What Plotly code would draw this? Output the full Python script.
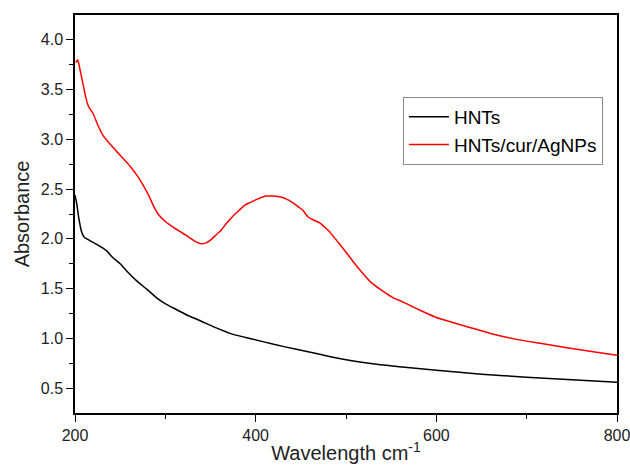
import plotly.graph_objects as go

# Data
hnt_x = [200, 202, 204, 207, 210, 217, 225, 235, 242, 250, 258, 268, 280, 290, 298, 310,
         325, 338, 355, 375, 398, 420, 445, 471, 497, 534, 565, 600, 650, 700, 750, 800]
hnt_y = [2.44, 2.35, 2.22, 2.08, 2.02, 1.98, 1.94, 1.88, 1.81, 1.75, 1.67, 1.58, 1.49, 1.41, 1.36, 1.30,
         1.23, 1.18, 1.11, 1.04, 0.99, 0.94, 0.89, 0.84, 0.79, 0.74, 0.71, 0.68, 0.64, 0.61, 0.585, 0.56]

ag_x = [201, 203, 206, 209, 212, 215, 220, 225, 231, 240, 250, 261, 270, 276, 282, 287, 292, 298,
        305, 315, 324, 332, 340, 345, 349, 355, 362, 368, 375, 382, 388, 395, 402, 412, 420, 428,
        434, 440, 446, 452, 458, 464, 471, 476, 482, 490, 497, 503, 508, 518, 528, 540, 552, 562,
        571, 585, 600, 618, 637, 660, 689, 715, 741, 770, 800]
ag_y = [3.77, 3.80, 3.68, 3.55, 3.42, 3.33, 3.26, 3.15, 3.04, 2.94, 2.84, 2.73, 2.62, 2.53, 2.43, 2.33, 2.25, 2.19,
        2.14, 2.08, 2.03, 1.98, 1.95, 1.96, 1.98, 2.03, 2.09, 2.16, 2.23, 2.29, 2.34, 2.37, 2.40, 2.43, 2.43, 2.42,
        2.40, 2.37, 2.33, 2.29, 2.22, 2.19, 2.16, 2.12, 2.07, 1.98, 1.90, 1.83, 1.77, 1.66, 1.56, 1.48, 1.41, 1.37,
        1.33, 1.27, 1.21, 1.16, 1.11, 1.05, 0.99, 0.95, 0.91, 0.87, 0.83]

series_names = ["HNTs", "HNTs/cur/AgNPs"]

fig = go.Figure()
fig.add_trace(go.Scatter(x=hnt_x, y=hnt_y, mode="lines", name=series_names[0],
                         line=dict(color="black", width=1.5, shape="spline", smoothing=0.6)))
fig.add_trace(go.Scatter(x=ag_x, y=ag_y, mode="lines", name=series_names[1],
                         line=dict(color="red", width=1.5, shape="spline", smoothing=0.6)))

font_family = "Liberation Sans, Arial, sans-serif"
axis_common = dict(
    showline=True, linecolor="black", linewidth=1.5, mirror=True,
    ticks="outside", ticklen=7, tickwidth=1, tickcolor="black",
    showgrid=False, zeroline=False, automargin=False, ticklabeloverflow="allow",
    tickfont=dict(family=font_family, size=16, color="#222"),
)
fig.update_layout(
    width=630, height=470,
    margin=dict(l=75, r=13, t=15, b=57, autoexpand=False),
    paper_bgcolor="white", plot_bgcolor="white",
    font=dict(family=font_family, color="#222"),
    xaxis=dict(range=[200, 800], tickvals=[200, 400, 600, 800],
               minor=dict(tickvals=[300, 500, 700], ticks="outside", ticklen=4, tickcolor="black"),
               title=dict(text="Wavelength cm<sup>-1</sup>", font=dict(size=20), standoff=3),
               **axis_common),
    yaxis=dict(range=[0.25, 4.25], tickvals=[0.5, 1.0, 1.5, 2.0, 2.5, 3.0, 3.5, 4.0],
               tickformat=".1f",
               minor=dict(tickvals=[0.75, 1.25, 1.75, 2.25, 2.75, 3.25, 3.75], ticks="outside",
                          ticklen=4, tickcolor="black"),
               title=dict(text="Absorbance", font=dict(size=20), standoff=6),
               **axis_common),
    legend=dict(x=0.605, y=0.794, xanchor="left", yanchor="top",
                bordercolor="#888", borderwidth=1, bgcolor="white",
                font=dict(family=font_family, size=19, color="black"),
                tracegroupgap=0, itemwidth=40),
    showlegend=True,
)

fig.write_html("out.html",
               config={"displayModeBar": False},
               post_script="document.body.style.margin='0px';document.body.style.overflow='hidden';")
